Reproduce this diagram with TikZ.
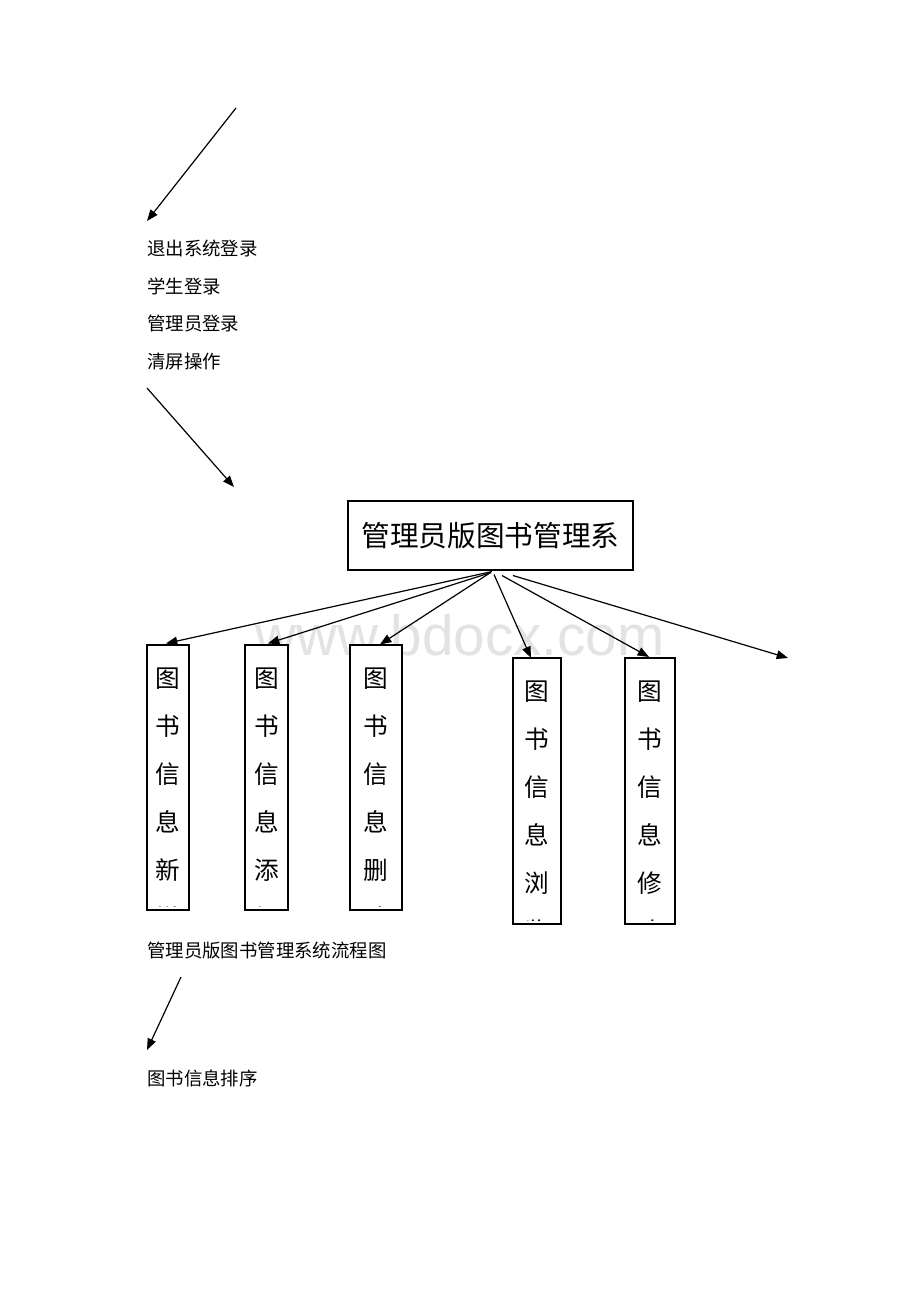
\documentclass[tikz,border=0pt]{standalone}
\usepackage{fontspec}
\newfontfamily\cjk{Noto Sans CJK SC}
\newfontfamily\wmfont{Liberation Sans}
\usetikzlibrary{arrows.meta,calc}
\begin{document}
\begin{tikzpicture}[x=0.75pt,y=-0.75pt,
  conn/.style={line width=0.9pt,-{Triangle[length=8.5pt,width=6.5pt]}},
  plain/.style={font=\cjk\fontsize{13.8pt}{16pt}\selectfont,anchor=west,inner sep=0pt},
  mainbox/.style={draw,line width=0.8pt,fill=white,minimum width=213.75pt,minimum height=51.75pt,inner sep=0pt,font=\cjk\fontsize{21.5pt}{24pt}\selectfont},
  colbox/.style={draw,line width=0.8pt,fill=white,inner sep=0pt,minimum height=198.75pt},
  coltext/.style={font=\cjk\fontsize{18.5pt}{36pt}\selectfont,align=center,anchor=north,inner sep=0pt}]
\useasboundingbox[fill=white] (0,0) rectangle (920,1302);

% watermark
\node[anchor=base west,font=\wmfont\fontsize{42.5pt}{42.5pt}\selectfont,text=black!11,inner sep=0pt] (wm) at (255,655) {www.bdocx.com};

% left column texts
\node[plain] (exit) at (147,248) {退出系统登录};
\node[plain] (stu) at (147,286) {学生登录};
\node[plain] (adm) at (147,324) {管理员登录};
\node[plain] (cls) at (147,362) {清屏操作};
\node[plain] (cap) at (147,951) {管理员版图书管理系统流程图};
\node[plain] (sort) at (147,1078) {图书信息排序};

% left arrows
\coordinate (a1s) at (236,108);
\coordinate (a1e) at (147,221);
\draw[conn] (a1s) -- (a1e);
\coordinate (a2s) at (147,388);
\coordinate (a2e) at (234,487);
\draw[conn] (a2s) -- (a2e);
\coordinate (a3s) at (181,977);
\coordinate (a3e) at (147,1050);
\draw[conn] (a3s) -- (a3e);

% main box
\node[mainbox] (main) at (490.5,535.5) {管理员版图书管理系};

% column boxes
\node[colbox,minimum width=31.5pt] (b1) at (168,777.5) {};
\node[colbox,minimum width=32.25pt] (b2) at (266.5,777.5) {};
\node[colbox,minimum width=39pt] (b3) at (376,777.5) {};
\node[colbox,minimum width=36pt] (b4) at (537,791) {};
\node[colbox,minimum width=37.5pt] (b5) at (650,791) {};

\begin{scope}
\clip ([yshift=3pt]b1.south west) rectangle (b1.north east);
\node[coltext] (t1) at ([yshift=-17pt]b1.north) {图\\书\\信\\息\\新\\增};
\end{scope}
\begin{scope}
\clip ([yshift=3pt]b2.south west) rectangle (b2.north east);
\node[coltext] (t2) at ([yshift=-17pt]b2.north) {图\\书\\信\\息\\添\\加};
\end{scope}
\begin{scope}
\clip ([yshift=3pt]b3.south west) rectangle (b3.north east);
\node[coltext] (t3) at ([yshift=-17pt]b3.north) {图\\书\\信\\息\\删\\除};
\end{scope}
\begin{scope}
\clip ([yshift=3pt]b4.south west) rectangle (b4.north east);
\node[coltext] (t4) at ([yshift=-17pt]b4.north) {图\\书\\信\\息\\浏\\览};
\end{scope}
\begin{scope}
\clip ([yshift=3pt]b5.south west) rectangle (b5.north east);
\node[coltext] (t5) at ([yshift=-17pt]b5.north) {图\\书\\信\\息\\修\\改};
\end{scope}
\draw[line width=0.8pt] (b1.south west) rectangle (b1.north east);
\draw[line width=0.8pt] (b2.south west) rectangle (b2.north east);
\draw[line width=0.8pt] (b3.south west) rectangle (b3.north east);
\draw[line width=0.8pt] (b4.south west) rectangle (b4.north east);
\draw[line width=0.8pt] (b5.south west) rectangle (b5.north east);

% connectors from main box
\coordinate (e6) at (788,658);
\draw[conn] ($(main.south)+(1.5,1)$) -- ($(b1.north)+(-2,-1)$);
\draw[conn] ($(main.south)+(0.5,2)$) -- ($(b2.north)+(1.5,-1)$);
\draw[conn] ($(main.south)+(0,2)$) -- ($(b3.north)+(4,0)$);
\draw[conn] ($(main.south)+(3.5,4)$) -- ($(b4.north)+(-6,0)$);
\draw[conn] ($(main.south)+(11.5,5)$) -- ($(b5.north)+(-1,-1)$);
\draw[conn] ($(main.south)+(22.5,5)$) -- (e6);
\end{tikzpicture}
\end{document}
